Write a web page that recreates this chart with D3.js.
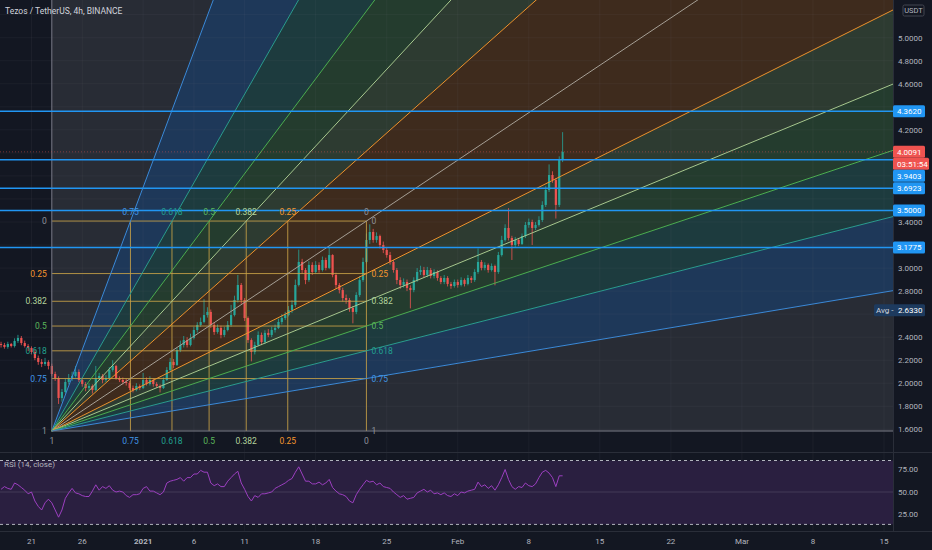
<!DOCTYPE html>
<html>
<head>
<meta charset="utf-8">
<script src="https://cdn.jsdelivr.net/npm/d3@7"></script>
<style>
html, body { margin: 0; padding: 0; background: #131722; }
svg { display: block; font-family: Roboto, "Liberation Sans", sans-serif; }
</style>
</head>
<body>
<div id="chart"></div>
<script>
// 8h bars, first bar opens Dec 18 2020
var barStart = Date.UTC(2020, 11, 18);
var barMs = 8 * 3600 * 1000;
var firstOpen = 2.34;
var closes = [
  2.332,2.315,2.341,2.323,2.367,2.393,2.349,2.323,2.306,2.271,
  2.219,2.185,2.167,2.185,2.150,2.080,2.045,1.872,1.924,2.011,
  2.045,2.063,2.098,2.028,1.993,1.959,1.976,1.941,2.045,2.063,
  2.028,2.045,2.115,2.150,2.045,2.028,2.011,2.002,1.959,1.941,
  1.976,1.959,2.028,1.993,2.028,1.993,1.976,1.959,2.028,2.115,
  2.185,2.158,2.289,2.332,2.375,2.332,2.393,2.462,2.506,2.532,
  2.592,2.619,2.506,2.445,2.480,2.419,2.462,2.506,2.592,2.723,
  2.853,2.723,2.566,2.375,2.271,2.332,2.419,2.358,2.437,2.419,
  2.462,2.480,2.532,2.566,2.592,2.636,2.680,2.853,3.053,2.983,
  2.896,3.027,2.966,3.027,2.983,3.070,3.001,3.113,2.940,2.853,
  2.809,2.740,2.723,2.653,2.619,2.766,2.896,3.053,3.244,3.313,
  3.244,3.278,3.200,3.157,3.113,3.053,2.983,2.896,2.853,2.879,
  2.827,2.809,2.896,2.966,2.983,2.940,2.983,2.931,2.966,2.914,
  2.879,2.914,2.862,2.844,2.879,2.853,2.896,2.862,2.914,2.896,
  2.966,3.053,3.001,3.027,2.983,3.018,2.966,3.113,3.244,3.348,
  3.261,3.200,3.244,3.209,3.278,3.374,3.400,3.348,3.374,3.417,
  3.548,3.678,3.808,3.765,3.548,3.938,4.009
];
var highs = [
  2.36,2.35,2.36,2.35,2.39,2.42,2.41,2.37,2.34,2.32,
  2.29,2.24,2.21,2.22,2.20,2.17,2.10,2.06,1.95,2.04,
  2.08,2.10,2.15,2.12,2.05,2.01,2.00,1.99,2.15,2.09,
  2.08,2.07,2.14,2.20,2.16,2.06,2.05,2.04,2.02,1.98,
  2.00,1.99,2.09,2.05,2.06,2.04,2.01,1.99,2.05,2.14,
  2.22,2.21,2.31,2.37,2.41,2.40,2.43,2.49,2.53,2.57,
  2.73,2.66,2.64,2.53,2.51,2.50,2.49,2.54,2.68,2.76,
  2.94,2.87,2.74,2.58,2.39,2.36,2.45,2.44,2.46,2.47,
  2.49,2.51,2.56,2.60,2.62,2.67,2.72,2.90,3.16,3.08,
  3.00,3.06,3.05,3.06,3.05,3.10,3.09,3.18,3.12,2.96,
  2.87,2.83,2.77,2.74,2.67,2.79,2.93,3.09,3.30,3.38,
  3.34,3.31,3.29,3.23,3.18,3.14,3.07,3.00,2.92,2.91,
  2.90,2.85,2.92,3.00,3.02,3.01,3.01,3.00,2.99,2.98,
  2.93,2.94,2.93,2.88,2.90,2.90,2.92,2.91,2.94,2.93,
  2.99,3.17,3.07,3.05,3.04,3.04,3.03,3.14,3.28,3.38,
  3.52,3.28,3.27,3.26,3.30,3.40,3.43,3.42,3.40,3.45,
  3.58,3.71,3.90,3.84,3.78,3.97,4.18
];
var lows = [
  2.31,2.30,2.30,2.31,2.31,2.35,2.33,2.31,2.28,2.25,
  2.20,2.16,2.14,2.15,2.12,2.06,2.02,1.82,1.84,1.91,
  1.99,2.02,2.05,2.01,1.97,1.93,1.94,1.91,1.93,2.03,
  2.00,2.01,2.03,2.10,2.03,2.01,1.99,1.98,1.94,1.92,
  1.93,1.94,1.95,1.98,1.98,1.97,1.96,1.92,1.95,2.02,
  2.10,2.13,2.15,2.27,2.31,2.31,2.32,2.38,2.44,2.49,
  2.52,2.57,2.48,2.42,2.43,2.39,2.40,2.45,2.49,2.58,
  2.70,2.69,2.54,2.35,2.19,2.25,2.32,2.33,2.34,2.40,
  2.40,2.44,2.47,2.51,2.55,2.58,2.61,2.66,2.84,2.95,
  2.86,2.88,2.94,2.95,2.96,2.97,2.98,2.99,2.92,2.82,
  2.78,2.71,2.69,2.62,2.52,2.60,2.75,2.88,3.04,3.21,
  3.22,3.22,3.17,3.13,3.09,3.03,2.96,2.86,2.82,2.83,
  2.80,2.65,2.79,2.88,2.94,2.92,2.92,2.91,2.91,2.89,
  2.86,2.86,2.84,2.82,2.83,2.83,2.84,2.84,2.85,2.87,
  2.88,2.95,2.98,2.98,2.96,2.97,2.85,2.95,3.10,3.23,
  3.24,3.07,3.18,3.19,3.20,3.26,3.35,3.20,3.33,3.36,
  3.40,3.53,3.66,3.74,3.43,3.53,3.92
];
var rsiValues = [
  53,56,54,53,60,58,55,52,48,50,
  40,34,30,38,42,38,30,22,30,43,
  49,54,49,48,46,45,45,51,58,52,
  56,54,57,52,50,51,50,46,44,47,
  47,48,54,56,51,51,49,47,50,60,
  62,63,64,66,62,66,66,70,70,74,
  72,72,60,57,59,56,56,62,66,70,
  73,60,53,45,40,46,44,48,48,49,
  50,54,56,58,60,63,65,72,78,70,
  62,62,59,59,61,58,60,64,55,51,
  48,47,45,40,38,47,53,58,63,61,
  62,58,60,56,55,54,50,47,44,46,
  42,43,44,49,51,53,50,52,48,49,
  47,49,46,45,48,46,50,49,51,52,
  53,61,56,58,54,57,52,58,66,75,
  64,56,53,56,55,60,57,56,59,66,
  72,74,71,66,56,68,68
];

var priceTicks = [1.6,1.8,2.0,2.2,2.4,2.6,2.8,3.0,3.2,3.4,3.6,3.8,4.0,4.2,4.4,4.6,4.8,5.0,5.2];
var rsiTicks = [25, 50, 75];
var rsiBands = [85, 14];
var tickDates = [
  Date.UTC(2020,11,21), Date.UTC(2020,11,26), Date.UTC(2021,0,1), Date.UTC(2021,0,6),
  Date.UTC(2021,0,11), Date.UTC(2021,0,18), Date.UTC(2021,0,25), Date.UTC(2021,1,1),
  Date.UTC(2021,1,8), Date.UTC(2021,1,15), Date.UTC(2021,1,22), Date.UTC(2021,2,1),
  Date.UTC(2021,2,8), Date.UTC(2021,2,15)
];
var tickLabels = ["21","26","2021","6","11","18","25","Feb","8","15","22","Mar","8","15"];

// fib speed resistance fan anchors
var fibStart = {t: Date.UTC(2020,11,23), p: 1.585};
var fibEnd = {t: Date.UTC(2021,0,23), p: 3.408};
var fibLevels = [0.25, 0.382, 0.5, 0.618, 0.75];
var fibLine = {"0":"#a8a196","0.25":"#f0932b","0.382":"#a8c98f","0.5":"#4caf50","0.618":"#2a9d8f","0.75":"#3b8ad9","1":"#787b86"};
var fibText = {"0":"#8f929b","0.25":"#f5962e","0.382":"#b3d49c","0.5":"#5cb85c","0.618":"#22a08f","0.75":"#4196e6","1":"#8f929b"};
var fibFill = {"0.25":"#3e2b1d","0.382":"#2d3b31","0.5":"#243c2e","0.618":"#1d3b3e","0.75":"#1e3859","1":"#282c35"};

var hLines = [4.3620, 3.9403, 3.6923, 3.5000, 3.1775];
var lastPrice = 4.0091;
var countdown = "03:51:54";
var avgPrice = 2.6330;

var W = 932, H = 550;
var paneRight = 893, mainBottom = 452, rsiTop = 453, rsiBottom = 531;

var svg = d3.select("#chart").append("svg")
  .attr("width", W)
  .attr("height", H);

svg.append("rect").attr("width", W).attr("height", H).attr("fill", "#131722");

var x = d3.scaleUtc()
  .domain([Date.UTC(2020,11,21), Date.UTC(2021,2,15)])
  .range([31.5, 884]);
var y = d3.scaleLinear().domain([1.6, 5.0]).range([429.3, 37.7]);
var yRsi = d3.scaleLinear().domain([25, 75]).range([514.5, 469.5]);

var defs = svg.append("defs");
defs.append("clipPath").attr("id", "clipMain")
  .append("rect").attr("width", paneRight).attr("height", mainBottom);
defs.append("clipPath").attr("id", "clipRsi")
  .append("rect").attr("y", rsiTop).attr("width", paneRight).attr("height", rsiBottom - rsiTop);

var main = svg.append("g").attr("clip-path", "url(#clipMain)");

// fan geometry
var ox = x(fibStart.t), oy = y(fibStart.p), ex = x(fibEnd.t), ey = y(fibEnd.p);
function levelY(l) { return y(fibEnd.p - l * (fibEnd.p - fibStart.p)); }
function levelX(l) { return x(fibEnd.t - l * (fibEnd.t - fibStart.t)); }

var rays = [{lv: 1, px: levelX(1), py: ey}];
fibLevels.slice().reverse().forEach(function(l) { rays.push({lv: l, px: levelX(l), py: ey}); });
rays.push({lv: 0, px: ex, py: ey});
fibLevels.forEach(function(l) { rays.push({lv: l, px: ex, py: levelY(l)}); });
rays.push({lv: 1, px: ex, py: levelY(1)});
rays.forEach(function(r) {
  var dx = r.px - ox, dy = r.py - oy, len = Math.sqrt(dx * dx + dy * dy);
  r.fx = ox + dx / len * 4000;
  r.fy = oy + dy / len * 4000;
});

// fills between neighbouring rays
for (var k = 0; k < rays.length - 1; k++) {
  var a = rays[k], b = rays[k + 1];
  var lv = Math.max(a.lv, b.lv);
  main.append("path")
    .attr("d", "M" + ox + "," + oy + "L" + a.fx + "," + a.fy + "L" + b.fx + "," + b.fy + "Z")
    .attr("fill", fibFill[String(lv)]);
}

// faint grid
var grid = svg.append("g").attr("stroke", "rgba(120,123,134,0.09)").attr("stroke-width", 1);
tickDates.forEach(function(d) {
  grid.append("line").attr("x1", x(d)).attr("x2", x(d)).attr("y1", 0).attr("y2", rsiBottom);
});
priceTicks.forEach(function(p) {
  grid.append("line").attr("x1", 0).attr("x2", paneRight).attr("y1", y(p)).attr("y2", y(p));
});

// candles
var bars = closes.map(function(c, i) {
  return {t: barStart + i * barMs, o: i ? closes[i - 1] : firstOpen, h: highs[i], l: lows[i], c: c};
});
var candles = main.append("g");
candles.selectAll("line.wick")
  .data(bars)
  .enter()
  .append("line")
    .attr("class", "wick")
    .attr("x1", function(d) { return x(d.t); })
    .attr("x2", function(d) { return x(d.t); })
    .attr("y1", function(d) { return y(d.h); })
    .attr("y2", function(d) { return y(d.l); })
    .attr("stroke", function(d) { return d.c >= d.o ? "#26a69a" : "#ef5350"; })
    .attr("stroke-width", 0.8);
candles.selectAll("rect.body")
  .data(bars)
  .enter()
  .append("rect")
    .attr("class", "body")
    .attr("x", function(d) { return x(d.t) - 1.1; })
    .attr("width", 2.2)
    .attr("y", function(d) { return y(Math.max(d.o, d.c)); })
    .attr("height", function(d) { return Math.max(0.8, Math.abs(y(d.o) - y(d.c))); })
    .attr("fill", function(d) { return d.c >= d.o ? "#26a69a" : "#ef5350"; });

// box grid of the fan
var boxLevels = [0].concat(fibLevels);
boxLevels.forEach(function(l) {
  main.append("line")
    .attr("x1", ox).attr("x2", ex).attr("y1", levelY(l)).attr("y2", levelY(l))
    .attr("stroke", "#c9a246").attr("stroke-opacity", 0.85);
  main.append("line")
    .attr("x1", levelX(l)).attr("x2", levelX(l)).attr("y1", ey).attr("y2", oy)
    .attr("stroke", "#c9a246").attr("stroke-opacity", 0.85);
});

// fan rays
rays.forEach(function(r) {
  main.append("line")
    .attr("x1", ox).attr("y1", oy).attr("x2", r.fx).attr("y2", r.fy)
    .attr("stroke", fibLine[String(r.lv)])
    .attr("stroke-width", 1);
});

// horizontal levels
hLines.forEach(function(p) {
  main.append("line")
    .attr("x1", 0).attr("x2", paneRight).attr("y1", y(p)).attr("y2", y(p))
    .attr("stroke", "#2196f3").attr("stroke-width", 1.5);
});
main.append("line")
  .attr("x1", 0).attr("x2", paneRight).attr("y1", y(lastPrice)).attr("y2", y(lastPrice))
  .attr("stroke", "#ef5350").attr("stroke-opacity", 0.45).attr("stroke-dasharray", "1,2");

// fan labels
var labels = svg.append("g").style("font-size", "8.5px");
[0].concat(fibLevels, [1]).forEach(function(l) {
  labels.append("text").attr("x", ox - 5).attr("y", levelY(l)).attr("dy", "0.35em")
    .attr("text-anchor", "end").attr("fill", fibText[String(l)]).text(String(l));
  labels.append("text").attr("x", ex + 5).attr("y", levelY(l)).attr("dy", "0.35em")
    .attr("text-anchor", "start").attr("fill", fibText[String(l)]).text(String(l));
  labels.append("text").attr("x", levelX(l)).attr("y", oy + 10).attr("dy", "0.35em")
    .attr("text-anchor", "middle").attr("fill", fibText[String(l)]).text(String(l));
  if (l !== 1) {
    labels.append("text").attr("x", levelX(l)).attr("y", ey - 9).attr("dy", "0.35em")
      .attr("text-anchor", "middle").attr("fill", fibText[String(l)]).text(String(l));
  }
});

// RSI pane
var rsiG = svg.append("g").attr("clip-path", "url(#clipRsi)");
rsiG.append("rect")
  .attr("x", 0).attr("width", paneRight)
  .attr("y", yRsi(rsiBands[0])).attr("height", yRsi(rsiBands[1]) - yRsi(rsiBands[0]))
  .attr("fill", "#2a1f40");
rsiBands.forEach(function(v) {
  rsiG.append("line").attr("x1", 0).attr("x2", paneRight).attr("y1", yRsi(v)).attr("y2", yRsi(v))
    .attr("stroke", "#b2b5be").attr("stroke-dasharray", "3,3").attr("stroke-width", 1);
});
rsiG.append("line").attr("x1", 0).attr("x2", paneRight).attr("y1", yRsi(50)).attr("y2", yRsi(50))
  .attr("stroke", "rgba(178,181,190,0.18)");
var rsiLine = d3.line()
  .x(function(d, i) { return x(barStart + i * barMs); })
  .y(function(d) { return yRsi(d); });
rsiG.append("path").datum(rsiValues)
  .attr("d", rsiLine)
  .attr("fill", "none")
  .attr("stroke", "#9c3fc0")
  .attr("stroke-width", 1);

// pane separators
svg.append("line").attr("x1", 0).attr("x2", W).attr("y1", 452.5).attr("y2", 452.5).attr("stroke", "#2a2e39");
svg.append("line").attr("x1", 0).attr("x2", W).attr("y1", 531.5).attr("y2", 531.5).attr("stroke", "#2a2e39");
svg.append("line").attr("x1", paneRight + 0.5).attr("x2", paneRight + 0.5).attr("y1", 0).attr("y2", 531).attr("stroke", "#2a2e39");

// price labels, pushed apart when they overlap
var tags = hLines.map(function(p) { return {y: y(p), h: 12, rows: [{text: p.toFixed(4), fill: "#2196f3", w: 32}]}; });
tags.push({y: y(lastPrice), h: 24, rows: [{text: lastPrice.toFixed(4), fill: "#ef5350", w: 32}, {text: countdown, fill: "#ef5350", w: 36}]});
tags.sort(function(a, b) { return a.y - b.y; });
var lastBottom = -Infinity;
tags.forEach(function(t) {
  t.top = Math.max(t.y - 6, lastBottom);
  lastBottom = t.top + t.h;
});
var covered = tags.map(function(t) { return [t.top, t.top + t.h]; });
covered.push([y(avgPrice) - 6, y(avgPrice) + 6]);
covered.push([5, 16]);

// price axis, skipping ticks hidden behind a tag
var axisG = svg.append("g").style("font-size", "8px").attr("fill", "#b2b5be");
priceTicks.forEach(function(p) {
  var ty = y(p);
  var hidden = covered.some(function(c) { return ty > c[0] - 5 && ty < c[1] + 5; });
  if (!hidden) {
    axisG.append("text").attr("x", 898).attr("y", ty).attr("dy", "0.35em").text(p.toFixed(4));
  }
});
rsiTicks.forEach(function(v) {
  axisG.append("text").attr("x", 898).attr("y", yRsi(v)).attr("dy", "0.35em").text(v.toFixed(2));
});

tags.forEach(function(t) {
  t.rows.forEach(function(r, j) {
    var ry = t.top + j * 12;
    svg.append("rect").attr("x", paneRight).attr("y", ry).attr("width", r.w).attr("height", 12)
      .attr("rx", 1.5).attr("fill", r.fill);
    svg.append("text").attr("x", paneRight + 4).attr("y", ry + 6).attr("dy", "0.35em")
      .style("font-size", "8px").attr("fill", "#ffffff").text(r.text);
  });
});

// average price tag
svg.append("rect").attr("x", 874).attr("y", y(avgPrice) - 6).attr("width", 51).attr("height", 12)
  .attr("rx", 1.5).attr("fill", "#1d3a5e");
svg.append("text").attr("x", 876).attr("y", y(avgPrice)).attr("dy", "0.35em")
  .style("font-size", "8px").attr("fill", "#d1d4dc").text("Avg -");
svg.append("text").attr("x", 898).attr("y", y(avgPrice)).attr("dy", "0.35em")
  .style("font-size", "8px").attr("fill", "#ffffff").text(avgPrice.toFixed(4));

// currency box
svg.append("rect").attr("x", 903).attr("y", 5).attr("width", 21).attr("height", 11)
  .attr("fill", "#131722").attr("stroke", "#434651").attr("rx", 1.5);
svg.append("text").attr("x", 913.5).attr("y", 10.5).attr("dy", "0.35em").attr("text-anchor", "middle")
  .style("font-size", "7.5px").attr("fill", "#b2b5be").text("USDT");

// time axis
tickDates.forEach(function(d, i) {
  svg.append("text")
    .attr("x", x(d)).attr("y", 541.5).attr("dy", "0.35em")
    .attr("text-anchor", "middle")
    .style("font-size", "8px")
    .style("font-weight", tickLabels[i] === "2021" ? "bold" : "normal")
    .attr("fill", "#b2b5be")
    .text(tickLabels[i]);
});

// titles
svg.append("text").attr("x", 5).attr("y", 11).attr("dy", "0.35em")
  .style("font-size", "8.5px").attr("fill", "#d1d4dc").text("Tezos / TetherUS, 4h, BINANCE");
svg.append("text").attr("x", 4).attr("y", 464).attr("dy", "0.35em")
  .style("font-size", "8px").attr("fill", "#b2b5be").text("RSI (14, close)");
</script>
</body>
</html>
